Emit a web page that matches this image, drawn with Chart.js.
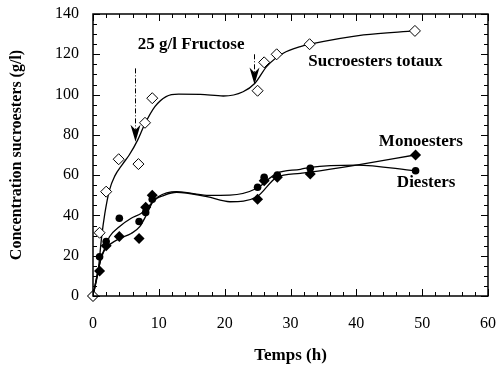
<!DOCTYPE html>
<html>
<head>
<meta charset="utf-8">
<script src="https://cdn.jsdelivr.net/npm/chart.js@4.4.0/dist/chart.umd.min.js"></script>
<style>
	html, body { margin: 0; padding: 0; background: #fff; }
	#wrap { width: 498px; height: 369px; }
</style>
</head>
<body>
<div id="wrap"><canvas id="graphe" width="498" height="369"></canvas></div>
<script>
/* Points mesures */
var tempsTotaux = [0, 1, 2, 3.9, 6.9, 7.9, 9, 25, 26, 27.9, 32.9, 48.9];
var sucroTotaux = [0, 31.4, 51.8, 67.9, 65.5, 86, 98.2, 101.9, 116, 120, 125, 131.6];

var tempsMono = [0, 1, 2, 4, 7, 8, 9, 25, 26, 28, 33, 49];
var monoesters = [0, 12.4, 25, 29.5, 28.5, 44, 50, 48, 57.2, 59, 60.6, 70];

var tempsDi = [0, 1, 2, 4, 7, 8, 9, 25, 26, 28, 33, 49];
var diesters = [0, 19.5, 27, 38.6, 37, 41.5, 48, 54, 58.9, 60.1, 63.4, 62.2];

/* Courbes lissees */
var courbeTotauxX = [0, 0.8, 1.3, 1.8, 2.5, 3.3, 4.5, 5.5, 6.8, 7.8, 9.4, 11.1, 13, 16.3, 19.8, 22.8, 24.6, 26.4, 28.9, 31.5, 33, 41.1, 48.9];
var courbeTotauxY = [0, 13, 29, 41, 52.6, 59.5, 65.5, 70, 77.5, 84.9, 94, 99, 100.2, 100.1, 99.3, 101.4, 105.6, 114, 120.5, 123.8, 125, 129.6, 131.6];

var courbeMonoX = [0, 0.8, 1.3, 2, 2.5, 4, 5.8, 7.1, 8.1, 9.1, 10.9, 12.7, 17.3, 20.8, 24.9, 27.9, 31.5, 33, 40, 48.9];
var courbeMonoY = [0, 12.9, 19.5, 24, 25.5, 28.5, 31, 34.4, 40.2, 46.8, 50.1, 51.5, 49.3, 46.8, 49.3, 58.9, 60.9, 61.5, 65, 70];

var courbeDiX = [0, 0.8, 1.3, 2, 2.5, 4, 5.8, 7.3, 8.4, 9.9, 12.7, 17.3, 20.8, 24.9, 27.9, 31.5, 33, 40, 48.9];
var courbeDiY = [0, 12.9, 19.5, 25.3, 29.4, 34.4, 38.6, 41, 44.3, 49.3, 51.8, 50, 50.1, 53.5, 60.9, 62.9, 63.9, 65, 62.2];

/* Annotations */
var fleches = [
	{ x: 6.4, haut: 113, bas: 76.6 },
	{ x: 24.4, haut: 120, bas: 105 }
];
var etiquettes = [
	{ texte: "25 g/l Fructose", x: 14.9, y: 124.6 },
	{ texte: "Sucroesters totaux", x: 42.9, y: 116.2 },
	{ texte: "Monoesters", x: 49.8, y: 76.5 },
	{ texte: "Diesters", x: 50.6, y: 56.1 }
];

function points(xs, ys) {
	return xs.map(function(x, i) { return { x: x, y: ys[i] }; });
}

var police = "Liberation Serif";

/* Cadre, graduations interieures, fleches et textes */
var decor = {
	id: "decor",
	afterDraw: function(chart) {
		var ctx = chart.ctx;
		var a = chart.chartArea;
		var sx = chart.scales.x;
		var sy = chart.scales.y;
		ctx.save();
		ctx.strokeStyle = "#000";
		ctx.lineWidth = 1.5;
		ctx.strokeRect(a.left, a.top, a.right - a.left, a.bottom - a.top);

		ctx.lineWidth = 1;
		for (var v = 0; v <= 60; v += 2) {
			var px = Math.round(sx.getPixelForValue(v)) + 0.5;
			var l = v % 10 == 0 ? 7 : 4;
			ctx.beginPath();
			ctx.moveTo(px, a.bottom); ctx.lineTo(px, a.bottom - l);
			ctx.moveTo(px, a.top); ctx.lineTo(px, a.top + l);
			ctx.stroke();
		}
		for (var w = 0; w <= 140; w += 5) {
			var py = Math.round(sy.getPixelForValue(w)) + 0.5;
			var m = w % 20 == 0 ? 7 : 4;
			ctx.beginPath();
			ctx.moveTo(a.left, py); ctx.lineTo(a.left + m, py);
			ctx.moveTo(a.right, py); ctx.lineTo(a.right - m, py);
			ctx.stroke();
		}

		/* fleches */
		fleches.forEach(function(f) {
			var fx = Math.round(sx.getPixelForValue(f.x)) + 0.5;
			var y1 = sy.getPixelForValue(f.haut);
			var y2 = sy.getPixelForValue(f.bas);
			ctx.setLineDash([5, 2, 1, 2]);
			ctx.lineWidth = 1;
			ctx.beginPath();
			ctx.moveTo(fx, y1);
			ctx.lineTo(fx, y2 - 12);
			ctx.stroke();
			ctx.setLineDash([]);
			ctx.fillStyle = "#000";
			ctx.beginPath();
			ctx.moveTo(fx, y2);
			ctx.lineTo(fx - 5, y2 - 17);
			ctx.lineTo(fx, y2 - 12);
			ctx.lineTo(fx + 5, y2 - 17);
			ctx.closePath();
			ctx.fill();
		});

		/* textes */
		ctx.fillStyle = "#000";
		ctx.font = "bold 17px '" + police + "'";
		ctx.textAlign = "center";
		ctx.textBaseline = "middle";
		etiquettes.forEach(function(e) {
			ctx.fillText(e.texte, sx.getPixelForValue(e.x), sy.getPixelForValue(e.y));
		});
		ctx.restore();
	}
};

var courbe = {
	showLine: true,
	pointRadius: 0,
	borderColor: "#000",
	borderWidth: 1.3,
	cubicInterpolationMode: "monotone",
	clip: false
};

var graphe = new Chart(document.getElementById("graphe"), {
	type: "scatter",
	data: {
		datasets: [
			{
				label: "Sucroesters totaux",
				data: points(tempsTotaux, sucroTotaux),
				pointStyle: "rectRot",
				pointRadius: 5.5,
				backgroundColor: "#fff",
				borderColor: "#000",
				borderWidth: 1,
				clip: false
			},
			{
				label: "Monoesters",
				data: points(tempsMono, monoesters),
				pointStyle: "rectRot",
				pointRadius: 5.5,
				backgroundColor: "#000",
				borderColor: "#000",
				borderWidth: 0,
				clip: false
			},
			{
				label: "Diesters",
				data: points(tempsDi, diesters),
				pointStyle: "circle",
				pointRadius: 3.8,
				backgroundColor: "#000",
				borderColor: "#000",
				borderWidth: 0,
				clip: false
			},
			Object.assign({ label: "c1", data: points(courbeTotauxX, courbeTotauxY) }, courbe),
			Object.assign({ label: "c2", data: points(courbeMonoX, courbeMonoY) }, courbe),
			Object.assign({ label: "c3", data: points(courbeDiX, courbeDiY) }, courbe)
		]
	},
	options: {
		responsive: false,
		animation: false,
		events: [],
		layout: { padding: { top: 14, right: 10, left: 0, bottom: 0 } },
		plugins: {
			legend: { display: false },
			tooltip: { enabled: false }
		},
		scales: {
			x: {
				type: "linear",
				min: 0,
				max: 60,
				grid: { display: false, drawTicks: false },
				border: { display: false },
				ticks: {
					stepSize: 10,
					padding: 18,
					color: "#000",
					font: { family: police, size: 16 }
				},
				title: {
					display: true,
					text: "Temps (h)",
					color: "#000",
					font: { family: police, size: 17, weight: "bold" },
					padding: { top: 0, bottom: 3 }
				},
				afterFit: function(s) {
					s.height = 73;
					s.paddingLeft = 0;
					s.paddingRight = 0;
				}
			},
			y: {
				type: "linear",
				min: 0,
				max: 140,
				grid: { display: false, drawTicks: false },
				border: { display: false },
				ticks: {
					stepSize: 20,
					padding: 14,
					color: "#000",
					font: { family: police, size: 16 }
				},
				title: {
					display: true,
					text: "Concentration sucroesters (g/l)",
					color: "#000",
					font: { family: police, size: 16, weight: "bold" },
					padding: { top: 7, bottom: 0 }
				},
				afterFit: function(s) {
					s.width = 93;
					s.paddingTop = 0;
					s.paddingBottom = 0;
				}
			}
		}
	},
	plugins: [decor]
});
</script>
</body>
</html>
